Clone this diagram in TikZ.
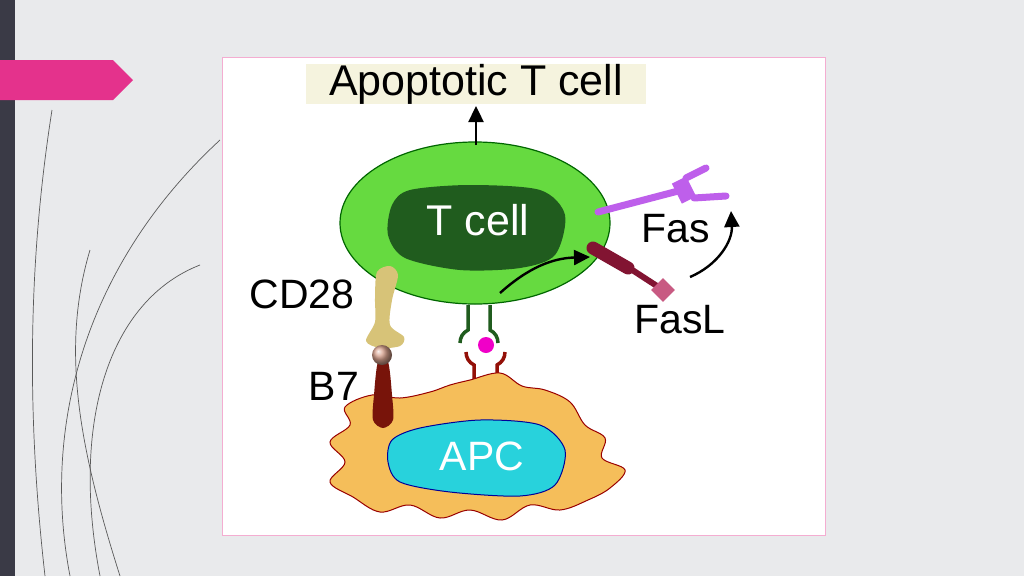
\documentclass[tikz,border=0pt]{standalone}
\usepackage{fontspec}
\setmainfont{Liberation Sans}
\usetikzlibrary{positioning,arrows.meta,shapes.geometric}
\definecolor{bgx}{RGB}{233,234,236}
\definecolor{barx}{RGB}{58,58,70}
\definecolor{pinkx}{RGB}{228,50,140}
\definecolor{grx}{RGB}{102,218,64}
\definecolor{dgrx}{RGB}{32,92,30}
\definecolor{purx}{RGB}{190,95,235}
\definecolor{fslx}{RGB}{130,20,50}
\definecolor{orx}{RGB}{245,190,90}
\definecolor{cyx}{RGB}{40,210,220}
\definecolor{tanx}{RGB}{215,195,120}
\definecolor{brx}{RGB}{120,20,10}
\tikzset{
  lbl/.style={font=\fontsize{41}{44}\selectfont,inner sep=0pt},
  blk/.style={-{Triangle[length=16pt,width=15pt]},line width=2.4pt}
}
\begin{document}
\begin{tikzpicture}[x=1pt,y=-1pt]
  \useasboundingbox (0,0) rectangle (1024,576);
  \fill[bgx] (0,0) rectangle (1024,576);
  \fill[barx] (0,0) rectangle (15,576);
  \fill[pinkx] (0,60) -- (113,60) -- (133,80) -- (113,100) -- (0,100) -- cycle;
  % decorative strokes
  \draw[gray!70!black,line width=0.7pt] (45,576) .. controls (25,400) and (30,250) .. (52,110);
  \draw[gray!70!black,line width=0.7pt] (70,576) .. controls (40,420) and (90,260) .. (220,140);
  \draw[gray!70!black,line width=0.7pt] (100,576) .. controls (70,420) and (110,300) .. (200,265);
  \draw[gray!70!black,line width=0.7pt] (120,576) .. controls (80,450) and (60,350) .. (90,250);
  % panel
  \draw[pinkx!40,fill=white] (222,57) rectangle (825,535);
  \node (ttl) [lbl,fill={rgb,255:red,245;green,243;blue,222},minimum width=340pt,minimum height=36pt,font=\fontsize{43}{44}\selectfont]
    at (476,84) {Apoptotic T cell};
  % T cell
  \node (tc) [ellipse,draw=green!40!black,line width=1.2pt,fill=grx,minimum width=270pt,minimum height=162pt] at (475,223) {};
  \fill[dgrx] plot[smooth cycle] coordinates {(392,205) (410,190) (470,185) (540,190) (565,215) (555,255) (520,268) (460,270) (405,258) (388,235)};
  \node (tlbl) [lbl,white,font=\fontsize{43}{44}\selectfont] at (478,220) {T cell};
  \coordinate (tup) at (476,145);
  \coordinate (atop) at (476,106);
  \draw[blk] (tup) -- (atop);
  % Fas
  \draw[purx,line width=7pt,line cap=round] (598,212) -- (682,190);
  \draw[purx,line width=16pt] (679,180) -- (689,200);
  \draw[purx,line width=7pt,line cap=round] (686,178) -- (706,168);
  \draw[purx,line width=7pt,line cap=round] (694,198) -- (726,196);
  \node (fas) [lbl] at (676,229) {Fas};
  % FasL
  \draw[fslx,line width=13pt,line cap=round] (593,248) -- (628,268);
  \draw[fslx,line width=6pt] (620,262) -- (660,288);
  \node (fasd) [diamond,fill={rgb,255:red,200;green,90;blue,130},minimum size=24pt,inner sep=0pt] at (663,290) {};
  \node (fasl) [lbl] at (680,320) {FasL};
  \coordinate (a1s) at (500,293);
  \coordinate (a1e) at (590,257);
  \draw[blk] (a1s) to[bend left=20] (a1e);
  \coordinate (a2s) at (690,277);
  \coordinate (a2e) at (731,211);
  \draw[blk] (a2s) to[bend right=35] (a2e);
  % TCR / MHC
  \draw[dgrx,line width=3.5pt] (468,305) -- (468,330) to[bend right=30] (460,343);
  \draw[dgrx,line width=3.5pt] (490,305) -- (490,330) to[bend left=30] (498,343);
  \node (pep) [circle,fill={rgb,255:red,240;green,0;blue,200},minimum size=16pt,inner sep=0pt] at (486,345) {};
  \draw[brx!80!red,line width=3.5pt] (466,352) to[bend right=30] (474,365) -- (474,410);
  \draw[brx!80!red,line width=3.5pt] (505,352) to[bend left=30] (497,365) -- (497,410);
  % CD28
  \fill[tanx] plot[smooth cycle] coordinates {(377,272) (390,266) (398,275) (392,300) (390,325) (404,337) (400,346) (380,348) (366,341) (375,322) (375,298)};
  \node (cd) [lbl] at (302,294) {CD28};
  % APC
  \draw[red!60!black,fill=orx,line width=1pt] plot[smooth cycle,tension=0.6] coordinates {
    (345,407) (372,395) (400,398) (430,392) (450,385) (470,380) (500,373) (522,386) (545,390) (570,402) (585,425) (605,438) (602,458) (625,470) (610,488) (588,500) (560,510) (530,505) (502,520) (470,510) (440,518) (410,505) (380,512) (353,497) (330,482) (345,462) (330,442) (350,425)};
  \draw[blue!60!black,fill=cyx,line width=1pt] plot[smooth cycle] coordinates {(392,440) (420,428) (480,420) (540,425) (565,450) (555,485) (520,496) (450,492) (400,482) (388,462)};
  \node (apc) [lbl,white] at (482,456) {APC};
  % B7
  \fill[brx] plot[smooth cycle] coordinates {(378,362) (388,362) (392,395) (393,420) (383,428) (373,420) (374,395)};
  \node (b7h) [circle,ball color={rgb,255:red,215;green,160;blue,140},minimum size=20pt,inner sep=0pt] at (382,355) {};
  \node (b7) [lbl] at (334,386) {B7};
\end{tikzpicture}
\end{document}
